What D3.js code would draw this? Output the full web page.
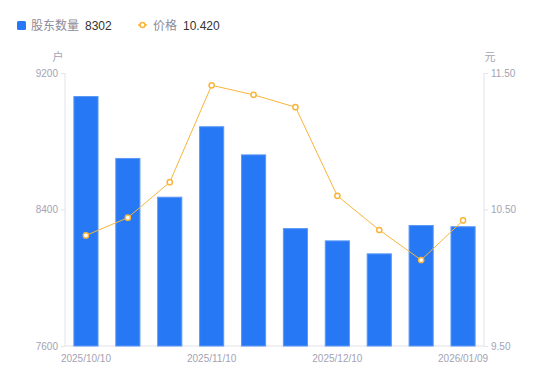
<!DOCTYPE html>
<html>
<head>
<meta charset="utf-8">
<script src="https://cdn.jsdelivr.net/npm/d3@7"></script>
<style>
  body { margin: 0; background: #fff; }
  svg { display: block; font-family: "Liberation Sans", "Noto Sans CJK SC", sans-serif; }
  .axis text { fill: #a3a3b3; font-size: 10px; }
</style>
</head>
<body>
<svg id="chart" width="550" height="381"></svg>
<script>
const dates = ["2025/10/10", "2025/10/20", "2025/10/31", "2025/11/10", "2025/11/20",
               "2025/11/28", "2025/12/10", "2025/12/19", "2025/12/31", "2026/01/09"];
const holders = [9065, 8702, 8475, 8888, 8723, 8291, 8219, 8143, 8309, 8302];
const prices = [10.31, 10.44, 10.70, 11.41, 11.34, 11.25, 10.60, 10.35, 10.13, 10.42];
const leftTicks = [7600, 8400, 9200];
const rightTicks = [9.5, 10.5, 11.5];
const xLabelIdx = [0, 3, 6, 9];

const svg = d3.select("#chart");
const m = { left: 65, right: 484, top: 73, bottom: 346 };

const x = d3.scaleBand().domain(dates).range([m.left, m.right]).paddingInner(0.4).paddingOuter(0.2);
const yL = d3.scaleLinear().domain([7600, 9200]).range([m.bottom, m.top]);
const yR = d3.scaleLinear().domain([9.5, 11.5]).range([m.bottom, m.top]);

// axes
const gl = svg.append("g").attr("class", "axis")
    .attr("transform", `translate(${m.left},0)`)
    .call(d3.axisLeft(yL).tickValues(leftTicks).tickSize(4).tickPadding(3).tickFormat(d3.format("d")));
const gr = svg.append("g").attr("class", "axis")
    .attr("transform", `translate(${m.right},0)`)
    .call(d3.axisRight(yR).tickValues(rightTicks).tickSize(4).tickPadding(3).tickFormat(d3.format(".2f")));
[gl, gr].forEach(g => {
    g.select(".domain").attr("stroke", "#e3e3e8").attr("d", `M0,${m.top}V${m.bottom}`);
    g.selectAll(".tick line").attr("stroke", "#e3e3e8");
});

svg.append("line")
    .attr("x1", m.left).attr("x2", m.right)
    .attr("y1", m.bottom).attr("y2", m.bottom)
    .attr("stroke", "#e3e3e8");

svg.append("g").attr("class", "axis")
    .selectAll("text")
    .data(xLabelIdx)
    .enter()
    .append("text")
    .attr("x", i => x(dates[i]) + x.bandwidth() / 2)
    .attr("y", 362)
    .attr("text-anchor", "middle")
    .text(i => dates[i]);

svg.append("text").attr("x", 58).attr("y", 61).attr("text-anchor", "middle")
    .attr("fill", "#a3a3b3").attr("font-size", 11).attr("font-family", "Noto Sans CJK SC").text("户");
svg.append("text").attr("x", 490).attr("y", 61).attr("text-anchor", "middle")
    .attr("fill", "#a3a3b3").attr("font-size", 11).attr("font-family", "Noto Sans CJK SC").text("元");

// bars
svg.append("g")
    .selectAll("rect")
    .data(holders)
    .enter()
    .append("rect")
    .attr("x", (d, i) => x(dates[i]) + 0.5)
    .attr("y", d => yL(d) + 0.5)
    .attr("width", x.bandwidth() - 1)
    .attr("height", d => m.bottom - yL(d) - 0.5)
    .attr("fill", "#2778f4")
    .attr("stroke", "#5a98f7")
    .attr("stroke-width", 1);

// price line
const line = d3.line()
    .x((d, i) => x(dates[i]) + x.bandwidth() / 2)
    .y(d => yR(d));
svg.append("path")
    .datum(prices)
    .attr("d", line)
    .attr("fill", "none")
    .attr("stroke", "#f8b53a")
    .attr("stroke-width", 1);
svg.append("g")
    .selectAll("circle")
    .data(prices)
    .enter()
    .append("circle")
    .attr("cx", (d, i) => x(dates[i]) + x.bandwidth() / 2)
    .attr("cy", d => yR(d))
    .attr("r", 2.6)
    .attr("fill", "#fff")
    .attr("stroke", "#f8b53a")
    .attr("stroke-width", 1.5);

// legend
const lg = svg.append("g");
lg.append("rect").attr("x", 17).attr("y", 21).attr("width", 9).attr("height", 9).attr("rx", 1.5).attr("fill", "#2778f4");
lg.append("text").attr("x", 31).attr("y", 29.5).attr("font-size", 12).attr("fill", "#8c8c99").text("股东数量");
lg.append("text").attr("x", 85).attr("y", 29.5).attr("font-size", 12).attr("fill", "#333").text(holders[holders.length - 1]);
lg.append("line").attr("x1", 138).attr("x2", 147).attr("y1", 25).attr("y2", 25).attr("stroke", "#f8b53a").attr("stroke-width", 1.5);
lg.append("circle").attr("cx", 142.5).attr("cy", 25).attr("r", 2.5).attr("fill", "#fff").attr("stroke", "#f8b53a").attr("stroke-width", 1.5);
lg.append("text").attr("x", 153).attr("y", 29.5).attr("font-size", 12).attr("fill", "#8c8c99").text("价格");
lg.append("text").attr("x", 183).attr("y", 29.5).attr("font-size", 12).attr("fill", "#333").text(d3.format(".3f")(prices[prices.length - 1]));
</script>
</body>
</html>
